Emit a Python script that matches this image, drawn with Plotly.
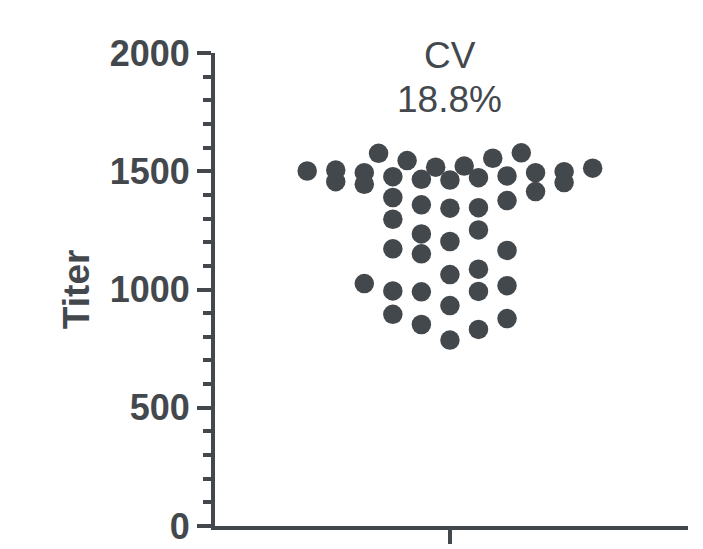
import plotly.graph_objects as go

# Titer values and their beeswarm column slot
titer = [
    1501, 1505, 1456, 1494, 1445, 1576, 1477, 1545, 1466, 1517, 1463,
    1522, 1473, 1555, 1480, 1578, 1494, 1414, 1498, 1452, 1513,
    1389, 1297, 1172, 994, 895,
    1358, 1235, 1151, 990, 852,
    1344, 1203, 1063, 932, 786,
    1346, 1252, 1086, 992, 831,
    1376, 1165, 1016, 877,
    1025,
]
swarm_slot = [
    -5, -4, -4, -3, -3, -2.5, -2, -1.5, -1, -0.5, 0,
    0.5, 1, 1.5, 2, 2.5, 3, 3, 4, 4, 5,
    -2, -2, -2, -2, -2,
    -1, -1, -1, -1, -1,
    0, 0, 0, 0, 0,
    1, 1, 1, 1, 1,
    2, 2, 2, 2,
    -3,
]
cv_label = ["CV", "18.8%"]
y_ticks = [0, 500, 1000, 1500, 2000]
y_title = "Titer"

ink = "#43484d"
font_family = "Liberation Sans, Arial, sans-serif"

fig = go.Figure()
fig.add_trace(go.Scatter(
    x=swarm_slot, y=titer, mode="markers",
    marker=dict(size=19.5, color=ink, line=dict(width=0)),
    hoverinfo="y", showlegend=False,
))

fig.update_layout(
    width=703, height=549,
    margin=dict(l=215, r=15, t=53, b=23, autoexpand=False),
    paper_bgcolor="white", plot_bgcolor="white",
    xaxis=dict(
        range=[-8.23, 8.34], showgrid=False, zeroline=False, automargin=False,
        showline=True, linecolor=ink, linewidth=4,
        tickmode="array", tickvals=[0], ticktext=[""],
        ticks="outside", ticklen=14, tickwidth=4, tickcolor=ink,
        showticklabels=False, fixedrange=True,
    ),
    yaxis=dict(
        range=[0, 2000], showgrid=False, zeroline=False, automargin=False,
        showline=True, linecolor=ink, linewidth=4,
        tickmode="array", tickvals=y_ticks,
        ticktext=[str(v) for v in y_ticks],
        ticks="outside", ticklen=14, tickwidth=4, tickcolor=ink,
        tickfont=dict(family=font_family, size=36, color=ink, weight="bold"),
        minor=dict(dtick=100, ticks="outside", ticklen=8, tickwidth=4,
                   tickcolor=ink, showgrid=False),
        fixedrange=True,
    ),
    annotations=[
        dict(text=cv_label[0], xref="x", yref="paper", x=0, y=1.0,
             yshift=-2.5, xanchor="center", yanchor="middle", showarrow=False,
             font=dict(family=font_family, size=37, color=ink)),
        dict(text=cv_label[1], xref="x", yref="paper", x=0, y=1.0,
             yshift=-46.5, xanchor="center", yanchor="middle", showarrow=False,
             font=dict(family=font_family, size=37, color=ink)),
        dict(text=y_title, xref="paper", yref="paper", x=-0.2925, y=0.5,
             xanchor="center", yanchor="middle", textangle=-90,
             showarrow=False,
             font=dict(family=font_family, size=37, color=ink, weight="bold")),
    ],
)

fig.write_html(
    "out.html",
    config={"displayModeBar": False},
    post_script="document.body.style.margin='0';document.body.style.overflow='hidden';",
)
